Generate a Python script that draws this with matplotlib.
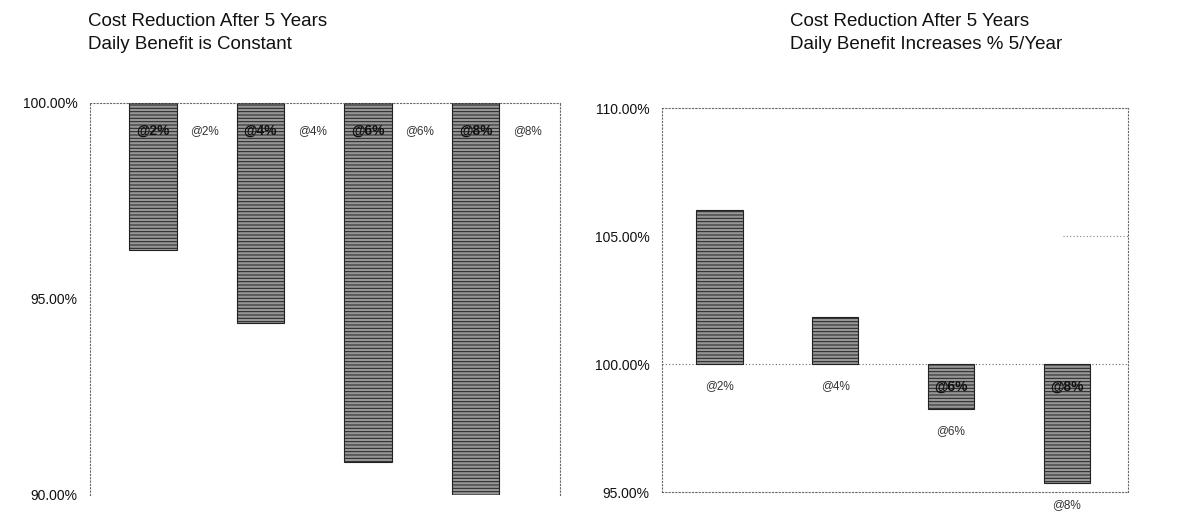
import matplotlib.pyplot as plt
import numpy as np

plt.rcParams['font.family'] = ['Liberation Sans', 'DejaVu Sans']
plt.rcParams['hatch.linewidth'] = 0.7

# Interest rate scenarios and cost after 5 years (as % of original cost)
rates = ['@2%', '@4%', '@6%', '@8%']
constant_benefit = [96.25, 94.4, 90.85, 89.8]
rising_benefit = [106.0, 101.85, 98.25, 95.35]
left_ticks = [90, 95, 100]
right_ticks = [95, 100, 105, 110]

left_title = 'Cost Reduction After 5 Years\nDaily Benefit is Constant'
right_title = 'Cost Reduction After 5 Years\nDaily Benefit Increases % 5/Year'

BAR_FACE = '#969696'
BAR_EDGE = '#222222'
DOTTED = (0, (1, 2))

W, H = 1204, 523
fig = plt.figure(figsize=(W / 100, H / 100), dpi=100)
ax1 = fig.add_axes([90 / W, 1 - 495 / H, 470 / W, 392 / H])
ax2 = fig.add_axes([662 / W, 1 - 492 / H, 466 / W, 384 / H])


def style_axes(ax, ticks, ylim, xlim):
    ax.set_ylim(*ylim)
    ax.set_xlim(*xlim)
    ax.set_yticks(ticks)
    ax.set_yticklabels([f'{t:.2f}%' for t in ticks], fontsize=10, color='#111111')
    ax.set_xticks([])
    ax.tick_params(axis='y', length=0, pad=9)
    for sp in ax.spines.values():
        sp.set_linestyle(DOTTED)
        sp.set_linewidth(0.8)
        sp.set_color('#666666')


def draw_bars(ax, values, base, width):
    x = np.arange(len(values))
    heights = [v - base for v in values]
    ax.bar(x, heights, bottom=base, width=width, color=BAR_FACE,
           edgecolor=BAR_EDGE, hatch='-----', linewidth=0.8, zorder=2)
    return x


# Left chart: benefit constant, bars hang down from 100%
style_axes(ax1, left_ticks, (90, 100), (-0.586, 3.786))
ax1.spines['bottom'].set_visible(False)
x1 = draw_bars(ax1, constant_benefit, 100, 0.44)
for xi, lab in zip(x1, rates):
    ax1.annotate(lab, (xi, 100), xytext=(0, -20), textcoords='offset points',
                 ha='center', va='center', fontsize=10, fontweight='bold',
                 color='#111111', zorder=3)
    ax1.annotate(lab, (xi + 0.22, 100), xytext=(10, -20), textcoords='offset points',
                 ha='left', va='center', fontsize=8.5, color='#333333', zorder=3)
fig.text(88 / W, 1 - 33 / H, left_title, fontsize=13.5, ha='left', va='center',
         linespacing=1.45, color='#111111')

# Right chart: benefit rising 5% per year, bars measured from 100%
style_axes(ax2, right_ticks, (95, 110), (-0.497, 3.53))
ax2.axhline(100, color='#666666', linestyle=DOTTED, linewidth=0.8, zorder=1)
ax2.axhline(105, xmin=0.86, color='#888888', linestyle=DOTTED, linewidth=0.8, zorder=1)
x2 = draw_bars(ax2, rising_benefit, 100, 0.40)
for xi, v, lab in zip(x2, rising_benefit, rates):
    low = min(v, 100)
    ax2.annotate(lab, (xi, low), xytext=(0, -16), textcoords='offset points',
                 ha='center', va='center', fontsize=8.5, color='#333333', zorder=3)
    if v < 100:
        ax2.annotate(lab, (xi, 100), xytext=(0, -16), textcoords='offset points',
                     ha='center', va='center', fontsize=10, fontweight='bold',
                     color='#111111', zorder=3)
fig.text(790 / W, 1 - 33 / H, right_title, fontsize=13.5, ha='left', va='center',
         linespacing=1.45, color='#111111')

fig.savefig('out.png', dpi=100, facecolor='white')
